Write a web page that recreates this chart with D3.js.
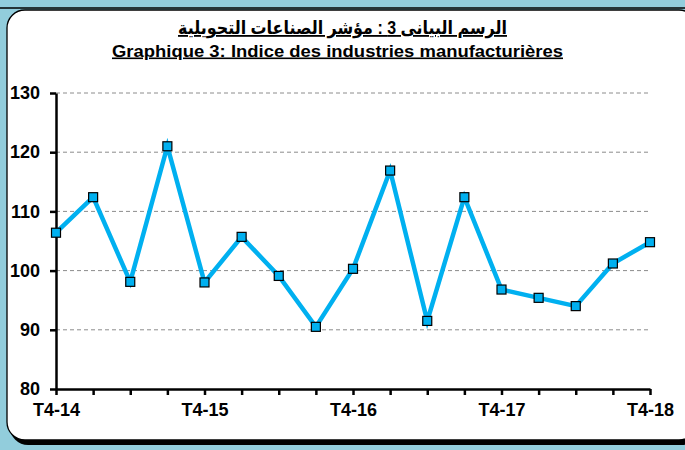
<!DOCTYPE html>
<meta charset="utf-8">
<style>
  body { margin: 0; background: #92cddc; }
  svg { display: block; }
</style>
<body>
<script src="https://d3js.org/d3.v7.min.js"></script>
<script>

// data
var quarters = ['T4-14','T1-15','T2-15','T3-15','T4-15','T1-16','T2-16','T3-16','T4-16',
                'T1-17','T2-17','T3-17','T4-17','T1-18','T2-18','T3-18','T4-18'];
var values = [106.4, 112.4, 98.1, 121.0, 98.0, 105.7, 99.1, 90.5, 100.3,
              116.9, 91.5, 112.4, 96.8, 95.4, 94.0, 101.2, 104.8];
var yTicks = [80, 90, 100, 110, 120, 130];
var xLabels = ['T4-14','T4-15','T4-16','T4-17','T4-18'];

var titleAr = 'الرسم البيانى 3 : مؤشر الصناعات التحويلية';
var titleFr = 'Graphique 3: Indice des industries manufacturières';

var W = 685, H = 450;
var FONT = 'Liberation Sans, Arial, sans-serif';
var svg = d3.select('body').append('svg').attr('width', W).attr('height', H);

// frame
svg.append('line').attr('x1', 0).attr('x2', W).attr('y1', 8).attr('y2', 8)
  .attr('stroke', '#000').attr('stroke-width', 1.5);
svg.append('rect').attr('x', 10).attr('y', 13).attr('width', 690).attr('height', 432)
  .attr('rx', 18).attr('fill', '#000');
svg.append('rect').attr('x', 7).attr('y', 10).attr('width', 690).attr('height', 430)
  .attr('rx', 18).attr('fill', '#fff').attr('stroke', '#000').attr('stroke-width', 1.3);

// titles
svg.append('text').attr('x', 342.5).attr('y', 34)
  .attr('text-anchor', 'middle').attr('direction', 'rtl')
  .attr('font-family', 'Liberation Sans, DejaVu Sans, sans-serif')
  .attr('font-weight', 'bold').attr('font-size', 18)
  .attr('text-decoration', 'underline')
  .attr('textLength', 329).attr('lengthAdjust', 'spacingAndGlyphs')
  .text(titleAr);
svg.append('text').attr('x', 337.5).attr('y', 56.5)
  .attr('text-anchor', 'middle')
  .attr('font-family', FONT)
  .attr('font-weight', 'bold').attr('font-size', 16)
  .attr('text-decoration', 'underline')
  .attr('textLength', 451).attr('lengthAdjust', 'spacingAndGlyphs')
  .text(titleFr);

var x = d3.scalePoint().domain(quarters).range([56, 650]);
var y = d3.scaleLinear().domain([80, 130]).range([389, 93]);

// grid
svg.append('g').selectAll('line')
  .data(yTicks.filter(d => d > 80))
  .join('line')
  .attr('x1', 56).attr('x2', 650)
  .attr('y1', d => y(d)).attr('y2', d => y(d))
  .attr('stroke', '#8c8c8c').attr('stroke-width', 1)
  .attr('stroke-dasharray', '4,3');

// y axis
var ya = svg.append('g').attr('transform', 'translate(56,0)')
  .call(d3.axisLeft(y).tickValues(yTicks).tickSize(6).tickPadding(10).tickSizeOuter(0));
ya.select('.domain').attr('stroke', '#000').attr('stroke-width', 2.5);
ya.selectAll('.tick line').attr('stroke', '#000').attr('stroke-width', 2.5);
ya.selectAll('text').attr('font-family', FONT)
  .attr('font-weight', 'bold').attr('font-size', 18).attr('fill', '#000');

// x axis
var xa = svg.append('g').attr('transform', 'translate(0,389)')
  .call(d3.axisBottom(x).tickSize(6).tickPadding(8).tickSizeOuter(0)
    .tickFormat(d => xLabels.indexOf(d) >= 0 ? d : ''));
xa.select('.domain').attr('stroke', '#000').attr('stroke-width', 2.5);
xa.selectAll('.tick line').attr('stroke', '#000').attr('stroke-width', 2.5);
xa.selectAll('text').attr('font-family', FONT)
  .attr('font-weight', 'bold').attr('font-size', 18).attr('fill', '#000');

// series
var pts = quarters.map((q, i) => [q, values[i]]);
svg.append('path').datum(pts)
  .attr('fill', 'none').attr('stroke', '#00b0f0').attr('stroke-width', 4.5)
  .attr('stroke-linejoin', 'miter')
  .attr('d', d3.line().x(d => x(d[0])).y(d => y(d[1])));

svg.append('g').selectAll('rect')
  .data(pts)
  .join('rect')
  .attr('x', d => x(d[0]) - 4.5).attr('y', d => y(d[1]) - 4.5)
  .attr('width', 9).attr('height', 9)
  .attr('fill', '#00b0f0').attr('stroke', '#000').attr('stroke-width', 1.2);

</script>
</body>
